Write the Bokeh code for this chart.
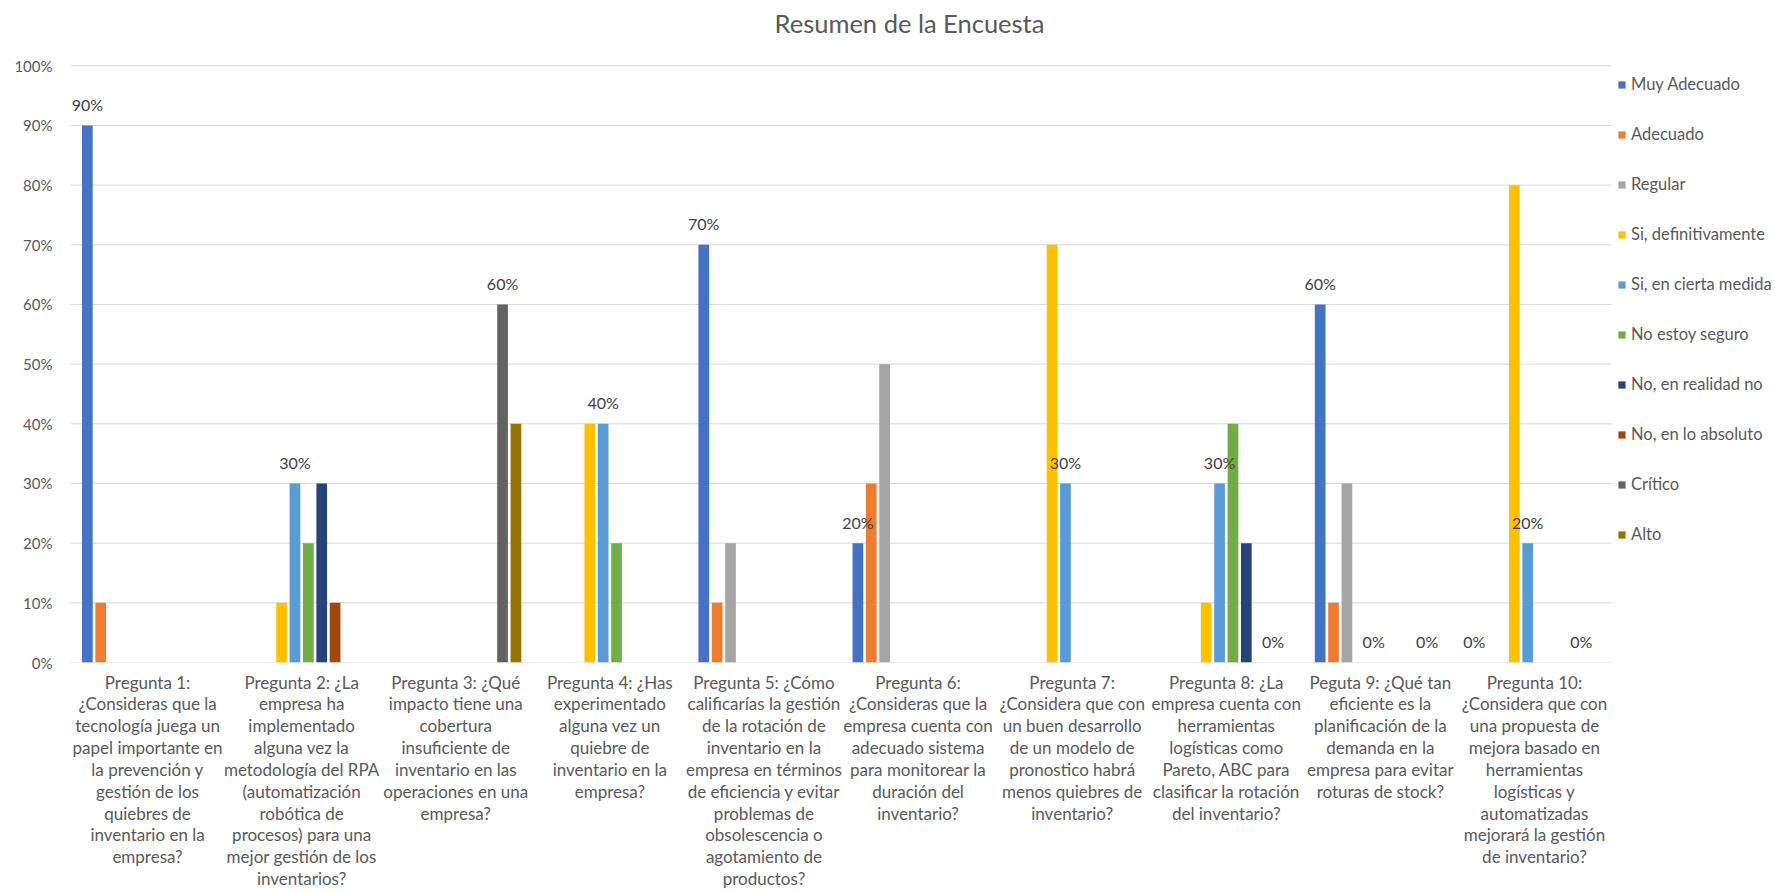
from bokeh.plotting import figure
from bokeh.models import (Range1d, ColumnDataSource, LabelSet, Legend, LegendItem,
                          FixedTicker, NumeralTickFormatter)
from bokeh.transform import dodge
from bokeh.embed import file_html
from bokeh.resources import INLINE
from bokeh.core.properties import value

# ---------------- data ----------------
questions = [
    "Pregunta 1:\n¿Consideras que la\ntecnología juega un\npapel importante en\nla prevención y\ngestión de los\nquiebres de\ninventario en la\nempresa?",
    "Pregunta 2: ¿La\nempresa ha\nimplementado\nalguna vez la\nmetodología del RPA\n(automatización\nrobótica de\nprocesos) para una\nmejor gestión de los\ninventarios?",
    "Pregunta 3: ¿Qué\nimpacto tiene una\ncobertura\ninsuficiente de\ninventario en las\noperaciones en una\nempresa?",
    "Pregunta 4: ¿Has\nexperimentado\nalguna vez un\nquiebre de\ninventario en la\nempresa?",
    "Pregunta 5: ¿Cómo\ncalificarías la gestión\nde la rotación de\ninventario en la\nempresa en términos\nde eficiencia y evitar\nproblemas de\nobsolescencia o\nagotamiento de\nproductos?",
    "Pregunta 6:\n¿Consideras que la\nempresa cuenta con\nadecuado sistema\npara monitorear la\nduración del\ninventario?",
    "Pregunta 7:\n¿Considera que con\nun buen desarrollo\nde un modelo de\npronostico habrá\nmenos quiebres de\ninventario?",
    "Pregunta 8: ¿La\nempresa cuenta con\nherramientas\nlogísticas como\nPareto, ABC para\nclasificar la rotación\ndel inventario?",
    "Peguta 9: ¿Qué tan\neficiente es la\nplanificación de la\ndemanda en la\nempresa para evitar\nroturas de stock?",
    "Pregunta 10:\n¿Considera que con\nuna propuesta de\nmejora basado en\nherramientas\nlogísticas y\nautomatizadas\nmejorará la gestión\nde inventario?",
]

series_names = ["Muy Adecuado", "Adecuado", "Regular", "Si, definitivamente",
                "Si, en cierta medida", "No estoy seguro", "No, en realidad no",
                "No, en lo absoluto", "Crítico", "Alto"]

muy_adecuado     = [0.9, None, None, None, 0.7, 0.2, None, None, 0.6, 0.0]
adecuado         = [0.1, None, None, None, 0.1, 0.3, None, None, 0.1, None]
regular          = [None, None, None, None, 0.2, 0.5, None, None, 0.3, None]
si_definitivo    = [None, 0.1, None, 0.4, None, None, 0.7, 0.1, None, 0.8]
si_cierta_medida = [None, 0.3, None, 0.4, None, None, 0.3, 0.3, 0.0, 0.2]
no_seguro        = [None, 0.2, None, 0.2, None, None, None, 0.4, None, None]
no_realidad      = [None, 0.3, None, None, None, None, None, 0.2, None, None]
no_absoluto      = [None, 0.1, None, None, None, None, None, None, None, None]
critico          = [None, None, 0.6, None, None, None, None, 0.0, 0.0, 0.0]
alto             = [None, None, 0.4, None, None, None, None, None, None, None]

series_values = [muy_adecuado, adecuado, regular, si_definitivo, si_cierta_medida,
                 no_seguro, no_realidad, no_absoluto, critico, alto]

labelled_series = ["Muy Adecuado", "Si, en cierta medida", "Crítico"]

y_ticks = [0.0, 0.1, 0.2, 0.3, 0.4, 0.5, 0.6, 0.7, 0.8, 0.9, 1.0]

title_text = "Resumen de la Encuesta"

# ---------------- style / layout ----------------
colors = ["#4472C4", "#ED7D31", "#A5A5A5", "#FFC000", "#5B9BD5",
          "#70AD47", "#264478", "#9E480E", "#636363", "#997300"]
FONT = "Lato"
TEXT = "#595959"
GRID = "#D9D9D9"
SLOT = 0.0868            # width of one series slot, in category units
BAR_W = 0.8 * SLOT
W, H = 1775, 893
LEFT, BOTTOM = 70, 231
CAT_PX = 154.1           # pixel width of one category
FRAME_H = H - BOTTOM
PX_PER_UNIT = 596.7      # pixels for 0..100 %

n_cat = len(questions)
cat_x = [i + 0.5 for i in range(n_cat)]                     # category centres
x_end = (W - LEFT) / CAT_PX                                  # room for legend on right
y_end = FRAME_H / PX_PER_UNIT                                # room for title on top

p = figure(width=W, height=H, x_range=Range1d(0, x_end), y_range=Range1d(0, y_end),
           output_backend="svg", toolbar_location=None, title=None,
           min_border_left=LEFT, min_border_right=0,
           min_border_top=0, min_border_bottom=BOTTOM)
p.outline_line_color = None
p.xgrid.visible = False
p.ygrid.visible = False

# horizontal gridlines spanning the category area only
p.segment(x0=[0] * len(y_ticks), x1=[n_cat] * len(y_ticks), y0=y_ticks, y1=y_ticks,
          line_color=GRID, line_width=1)

items = []
n = len(series_names)
for j, (name, vals, col) in enumerate(zip(series_names, series_values, colors)):
    xs = [cx for cx, v in zip(cat_x, vals) if v is not None]
    ys = [v for v in vals if v is not None]
    src = ColumnDataSource(dict(cx=xs, v=ys, lbl=[f"{round(v * 100)}%" for v in ys]))
    off = (j - (n - 1) / 2) * SLOT
    r = p.vbar(x=dodge("cx", off), top="v", width=BAR_W,
               source=src, fill_color=col, line_color=None)
    items.append(LegendItem(label=name, renderers=[r]))
    if name in labelled_series:
        p.add_layout(LabelSet(x=dodge("cx", off), y="v", text="lbl",
                              source=src, y_offset=21, text_align="center",
                              text_baseline="middle", text_font=value(FONT),
                              text_font_size="16px", text_color="#404040"))

# x axis: category labels
p.xaxis.ticker = FixedTicker(ticks=cat_x)
p.xaxis.major_label_overrides = {cx: q for cx, q in zip(cat_x, questions)}
p.xaxis.axis_line_color = None
p.xaxis.major_tick_line_color = None
p.xaxis.minor_tick_line_color = None
p.xaxis.major_tick_out = 0
p.xaxis.major_tick_in = 0
p.xaxis.major_label_standoff = 9
p.xaxis.major_label_text_font = FONT
p.xaxis.major_label_text_font_size = "17px"
p.xaxis.major_label_text_color = TEXT
p.xaxis.major_label_text_line_height = 1.04

# y axis
p.yaxis.ticker = FixedTicker(ticks=y_ticks)
p.yaxis.formatter = NumeralTickFormatter(format="0%")
p.yaxis.axis_line_color = None
p.yaxis.major_tick_line_color = None
p.yaxis.minor_tick_line_color = None
p.yaxis.major_tick_out = 0
p.yaxis.major_tick_in = 0
p.yaxis.major_label_standoff = 18
p.yaxis.major_label_text_font = FONT
p.yaxis.major_label_text_font_size = "15px"
p.yaxis.major_label_text_color = TEXT

# legend, to the right of the category area
legend = Legend(items=items, location=(1547, 118), orientation="vertical",
                border_line_color=None, background_fill_alpha=0,
                padding=0, margin=0, spacing=30,
                glyph_width=9, glyph_height=9, label_standoff=5,
                label_text_font=FONT, label_text_font_size="16.5px",
                label_text_color=TEXT, label_height=20)
p.add_layout(legend, "center")

# chart title, above the 100 % line
p.text(x=[(909 - LEFT) / CAT_PX], y=[(FRAME_H - 22.6) / PX_PER_UNIT], text=[title_text],
       text_align="center", text_baseline="middle", text_font=value(FONT),
       text_font_size="25.5px", text_color=TEXT)

open("out.html", "w").write(file_html(p, INLINE))
